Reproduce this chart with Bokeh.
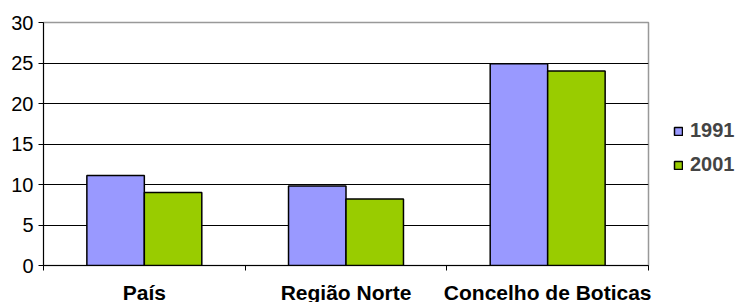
from bokeh.plotting import figure
from bokeh.models import ColumnDataSource, FixedTicker, Legend, LegendItem, Range1d
from bokeh.embed import file_html
from bokeh.resources import INLINE

categories = ["País", "Região Norte", "Concelho de Boticas"]
years = ["1991", "2001"]
values_1991 = [11.1, 9.8, 24.9]
values_2001 = [9.0, 8.2, 24.0]
y_ticks = [0, 5, 10, 15, 20, 25, 30]
colors = ["#9999FF", "#99CC00"]

centers = [i + 0.5 for i in range(len(categories))]
bw = 0.285

p = figure(frame_width=605, frame_height=243, output_backend="svg", toolbar_location=None,
           x_range=Range1d(0, len(categories)), y_range=Range1d(0, 30),
           min_border_left=43, min_border_top=22, min_border_bottom=36, min_border_right=86)

src1 = ColumnDataSource(dict(x=[c - bw / 2 for c in centers], top=values_1991))
src2 = ColumnDataSource(dict(x=[c + bw / 2 for c in centers], top=values_2001))
r1 = p.vbar(x="x", top="top", width=bw, source=src1, fill_color=colors[0], line_color="black", line_width=1.5)
r2 = p.vbar(x="x", top="top", width=bw, source=src2, fill_color=colors[1], line_color="black", line_width=1.5)

p.xaxis.ticker = FixedTicker(ticks=centers, minor_ticks=list(range(len(categories) + 1)))
p.xaxis.major_label_overrides = {c: lab for c, lab in zip(centers, categories)}
p.xaxis.major_tick_out = 0
p.xaxis.major_tick_in = 0
p.xaxis.minor_tick_out = 5
p.xaxis.minor_tick_in = 0
p.xaxis.major_label_text_font = "Liberation Sans"
p.xaxis.major_label_text_font_style = "bold"
p.xaxis.major_label_text_font_size = "21px"
p.xaxis.major_label_text_color = "black"
p.xaxis.major_label_standoff = 10
p.xaxis.axis_line_color = "black"
p.xaxis.minor_tick_line_color = "black"

p.yaxis.ticker = FixedTicker(ticks=y_ticks)
p.yaxis.minor_tick_line_color = None
p.yaxis.major_tick_out = 5
p.yaxis.major_tick_in = 0
p.yaxis.major_label_text_font = "Liberation Sans"
p.yaxis.major_label_text_font_size = "20px"
p.yaxis.major_label_text_color = "black"
p.yaxis.major_label_standoff = 5
p.yaxis.axis_line_color = "black"
p.yaxis.major_tick_line_color = "black"

p.xgrid.grid_line_color = None
p.ygrid.grid_line_color = "black"
p.ygrid.grid_line_alpha = 1.0
p.outline_line_color = "#999999"
p.outline_line_width = 1.5

legend = Legend(items=[LegendItem(label=years[0], renderers=[r1]),
                       LegendItem(label=years[1], renderers=[r2])],
                location=(25, 89))
legend.glyph_width = 10
legend.glyph_height = 10
legend.label_text_font = "Liberation Sans"
legend.label_text_font_style = "bold"
legend.label_text_font_size = "20px"
legend.label_height = 20
legend.spacing = 11
legend.label_standoff = 7
legend.border_line_color = None
legend.background_fill_alpha = 0
legend.padding = 0
legend.margin = 0
p.add_layout(legend, "right")

open("out.html", "w").write(file_html(p, INLINE))
